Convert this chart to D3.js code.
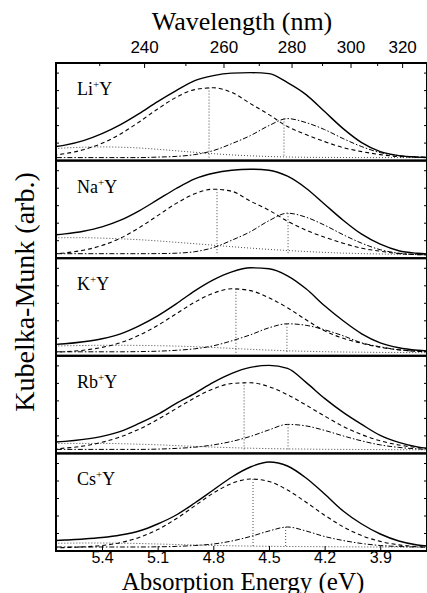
<!DOCTYPE html>
<html>
<head>
<meta charset="utf-8">
<script src="https://cdn.jsdelivr.net/npm/d3@7"></script>
<style>
  body { margin: 0; background: #fff; }
</style>
</head>
<body>
<div id="chart"></div>
<script>
// energy grid (eV) shared by every curve
const energies = [5.7, 5.6, 5.5, 5.4, 5.3, 5.2, 5.1, 5.0, 4.9, 4.8, 4.7, 4.6, 4.5, 4.4, 4.3, 4.2, 4.1, 4.0, 3.9, 3.8, 3.7, 3.6]

const cations = ["Li", "Na", "K", "Rb", "Cs"]

// Li+Y
const liTotal   = [10, 12.5, 17, 24, 33, 44, 56, 67, 77, 82, 84.5, 85, 84, 75, 63, 46, 29, 15, 6, 2, 0.5, 0]
const liBand1   = [1.8, 3.9, 7.9, 14.3, 23.7, 35.6, 48.6, 60.3, 68, 69.8, 65.1, 54, 43, 31, 23, 16, 10, 6, 3, 1, 0.5, 0.2]
const liBand2   = [0, 0, 0, 0, 0, 0, 0.5, 1.2, 3, 7, 14, 22, 32, 39, 35, 28, 19, 11, 5, 2, 0.6, 0.2]
const liBand3   = [8.3, 9.6, 10.4, 10.7, 10.4, 9.6, 8.3, 6.8, 5.3, 3.9, 2.7, 1.8, 1.1, 0.6, 0.3, 0.2, 0.1, 0, 0, 0, 0, 0]
// Na+Y
const naTotal   = [19.6, 21.3, 24, 28.3, 35, 44.4, 55.5, 66.7, 76.4, 82, 85, 86, 85, 79, 67, 51, 35, 21, 11, 4.5, 1.9, 0.8]
const naBand1   = [1.0, 2.3, 5.0, 9.7, 17.1, 27.4, 39.6, 51.8, 61.4, 66, 63.9, 54, 45, 34, 25, 18, 12, 7, 4, 1.6, 0.6, 0.2]
const naBand2   = [1.5, 1.5, 1.5, 1.5, 1.5, 1.5, 1.6, 2, 3.5, 7.6, 15, 23.5, 34.5, 42, 38, 30, 20.5, 12, 5.5, 2, 0.7, 0.2]
const naBand3   = [17.1, 17.5, 17.5, 17.1, 16.4, 15.5, 14.3, 12.9, 11.5, 10, 8.5, 7.1, 5.8, 4.7, 3.7, 2.8, 2.1, 1.6, 1.2, 0.9, 0.6, 0.4]
// K+Y
const kTotal    = [8, 9, 11, 14, 19, 27, 37, 49, 62, 73, 81, 85, 84, 77, 64, 47, 32, 19, 10, 5, 2.5, 1.5]
const kBand1    = [0.4, 1.1, 2.6, 5.4, 10.1, 17.5, 27.4, 39, 50.6, 59.6, 64, 62.2, 55, 45, 33, 22, 14.5, 9.5, 5.5, 3, 1.5, 0.8]
const kBand2    = [1, 1, 1, 1, 1, 1.2, 1.6, 2.5, 4, 7, 12, 18, 25, 29, 27.5, 23, 17, 10, 6, 3, 1.5, 1]
const kBand3    = [6.5, 7, 7.3, 7.5, 7.5, 7.4, 7.1, 6.7, 6.1, 5.3, 4.4, 3.5, 2.7, 2, 1.5, 1.1, 0.8, 0.6, 0.4, 0.3, 0.2, 0.1]
// Rb+Y
const rbTotal   = [8, 9, 11, 14, 19, 27, 36, 47, 57, 68, 77, 83, 85, 82, 68, 52, 38, 26, 15, 8, 3.5, 1.5]
const rbBand1   = [1.1, 2.3, 4.4, 8.1, 13.6, 21.2, 30.9, 41.8, 52.6, 61.5, 66.9, 67.7, 63.7, 55.7, 45.3, 34.3, 24, 15.8, 9.6, 5.4, 2.8, 1.4]
const rbBand2   = [1, 1, 1, 1, 1, 1, 1.3, 2, 3.2, 5.5, 9, 14, 20.5, 26, 24.5, 20, 14.5, 9.5, 5.5, 3, 1.5, 0.8]
const rbBand3   = [6.5, 7, 7, 7, 6.7, 6.2, 5.6, 4.8, 4, 3.3, 2.7, 2.2, 1.8, 1.5, 1.3, 1.1, 1, 0.9, 0.8, 0.7, 0.6, 0.5]
// Cs+Y
const csTotal   = [7, 8, 9, 10.5, 13, 17, 24, 33, 45, 58, 71, 81, 86, 82, 70, 54, 37, 24, 14, 7, 3, 1.5]
const csBand1   = [0.1, 0.4, 1.1, 2.5, 5.4, 10.5, 18.4, 29.3, 42.1, 54.9, 64.6, 69, 66.5, 58, 45.8, 32.8, 21.2, 12.4, 6.6, 3.1, 1.4, 0.5]
const csBand2   = [1, 1, 1, 1, 1, 1, 1.2, 1.6, 2.5, 4, 7, 11.5, 17, 21, 17, 11.5, 7.5, 4.5, 2.5, 1.5, 1, 0.8]
const csBand3   = [4.5, 4.8, 5, 5, 4.8, 4.5, 4, 3.5, 3, 2.6, 2.2, 1.9, 1.7, 1.5, 1.4, 1.3, 1.2, 1.1, 1, 1, 0.9, 0.9]

// band maxima (vertical dotted markers)
const band1PeakE = [4.823, 4.78, 4.678, 4.634, 4.586]
const band1PeakH = [70, 66, 64, 68, 69]
const band2PeakE = [4.419, 4.397, 4.403, 4.397, 4.41]
const band2PeakH = [39, 42, 29, 26, 21]

// tick labels
const energyTicks = [5.4, 5.1, 4.8, 4.5, 4.2, 3.9]
const wavelengthTicks = [240, 260, 280, 300, 320]
const wavelengthMinor = [230, 250, 270, 290, 310]

const SERIF = "'Liberation Serif', 'Times New Roman', serif"
const SANS = "'Liberation Sans', Arial, sans-serif"

const width = 427
const height = 593
const margin = { top: 63, bottom: 42, left: 56, right: 0 }
const plotW = width - margin.left - margin.right
const plotH = height - margin.top - margin.bottom
const panelH = plotH / cations.length

const panels = cations.map((c, i) => ({
  name: c,
  total: [liTotal, naTotal, kTotal, rbTotal, csTotal][i],
  band1: [liBand1, naBand1, kBand1, rbBand1, csBand1][i],
  band2: [liBand2, naBand2, kBand2, rbBand2, csBand2][i],
  band3: [liBand3, naBand3, kBand3, rbBand3, csBand3][i],
  p1: [band1PeakE[i], band1PeakH[i]],
  p2: [band2PeakE[i], band2PeakH[i]],
}))

const svg = d3.select("#chart")
  .append("svg")
  .attr("width", width)
  .attr("height", height)

svg.append("defs").append("clipPath")
  .attr("id", "clip")
  .append("rect")
  .attr("width", plotW)
  .attr("height", panelH)

// scales
const x = d3.scaleLinear().domain([5.648, 3.648]).range([0, plotW])
// the printed wavelength axis is offset from the energy axis in the original
const xTop = d3.scaleLinear().domain([5.607, 3.750]).range([0, plotW])
const y = d3.scaleLinear().domain([-3, panelH - 3]).range([panelH, 0])

const line = d3.line()
  .x((d, i) => x(energies[i]))
  .y(d => y(d))
  .curve(d3.curveMonotoneX)

const styles = {
  band3: { dash: "1,2", w: 0.9, c: "#333" },
  band2: { dash: "5,2,1.5,2", w: 1, c: "#000" },
  band1: { dash: "4,3", w: 1.1, c: "#000" },
  total: { dash: null, w: 1.4, c: "#000" },
}

const plot = svg.append("g")
  .attr("transform", `translate(${margin.left}, ${margin.top})`)

panels.forEach((p, i) => {
  const g = plot.append("g")
    .attr("transform", `translate(0, ${i * panelH})`)

  const curves = g.append("g").attr("clip-path", "url(#clip)")

  ;["band3", "band2", "band1", "total"].forEach(k => {
    curves.append("path")
      .datum(p[k])
      .attr("d", line)
      .attr("fill", "none")
      .attr("stroke", styles[k].c)
      .attr("stroke-width", styles[k].w)
      .attr("stroke-dasharray", styles[k].dash)
  })

  // markers at band maxima
  ;[p.p1, p.p2].forEach(pk => {
    curves.append("line")
      .attr("x1", x(pk[0])).attr("x2", x(pk[0]))
      .attr("y1", y(pk[1])).attr("y2", y(0))
      .attr("stroke", "#333")
      .attr("stroke-width", 0.9)
      .attr("stroke-dasharray", "1,2")
  })

  // y ticks, no labels
  const yTicks = d3.range(15, 90, 17.5)
  g.append("g")
    .call(d3.axisLeft(y).tickValues(yTicks).tickSize(-3).tickFormat(""))
    .call(a => a.select(".domain").remove())
  g.append("g")
    .attr("transform", `translate(${plotW}, 0)`)
    .call(d3.axisRight(y).tickValues(yTicks).tickSize(-3).tickFormat(""))
    .call(a => a.select(".domain").remove())

  g.append("rect")
    .attr("width", plotW)
    .attr("height", panelH)
    .attr("fill", "none")
    .attr("stroke", "#000")
    .attr("stroke-width", 2)

  const label = g.append("text")
    .attr("x", 21)
    .attr("y", 32)
    .attr("font-family", SERIF)
    .attr("font-size", 18)
  label.append("tspan").text(p.name)
  label.append("tspan").text("+").attr("font-size", 11).attr("dy", -7)
  label.append("tspan").text("Y").attr("dy", 7)
})

// bottom energy axis
const xAxis = d3.axisBottom(x)
  .tickValues(energyTicks)
  .tickSizeInner(-5)
  .tickSizeOuter(0)
  .tickPadding(1)
  .tickFormat(d3.format(".1f"))
plot.append("g")
  .attr("transform", `translate(0, ${plotH})`)
  .call(xAxis)
  .call(a => a.select(".domain").remove())
  .call(a => a.selectAll("text").attr("font-size", 16).attr("font-family", SANS))

// top wavelength axis
const toE = nm => 1239.84 / nm
const xTopAxis = d3.axisTop(xTop)
  .tickValues(wavelengthTicks.map(toE))
  .tickSizeInner(-5)
  .tickSizeOuter(0)
  .tickPadding(10)
  .tickFormat(e => Math.round(1239.84 / e))
plot.append("g")
  .call(xTopAxis)
  .call(a => a.select(".domain").remove())
  .call(a => a.selectAll("text").attr("font-size", 17).attr("font-family", SANS))
plot.append("g")
  .call(d3.axisTop(xTop).tickValues(wavelengthMinor.map(toE)).tickSize(-3).tickFormat(""))
  .call(a => a.select(".domain").remove())

// titles
svg.append("text")
  .attr("x", 242)
  .attr("y", 30)
  .attr("text-anchor", "middle")
  .attr("font-family", SERIF)
  .attr("font-size", 26)
  .text("Wavelength (nm)")

svg.append("text")
  .attr("x", 243)
  .attr("y", 589.5)
  .attr("text-anchor", "middle")
  .attr("font-family", SERIF)
  .attr("font-size", 25)
  .text("Absorption Energy (eV)")

svg.append("text")
  .attr("transform", "translate(34, 292) rotate(-90)")
  .attr("text-anchor", "middle")
  .attr("font-family", SERIF)
  .attr("font-size", 28)
  .text("Kubelka-Munk (arb.)")
</script>
</body>
</html>
